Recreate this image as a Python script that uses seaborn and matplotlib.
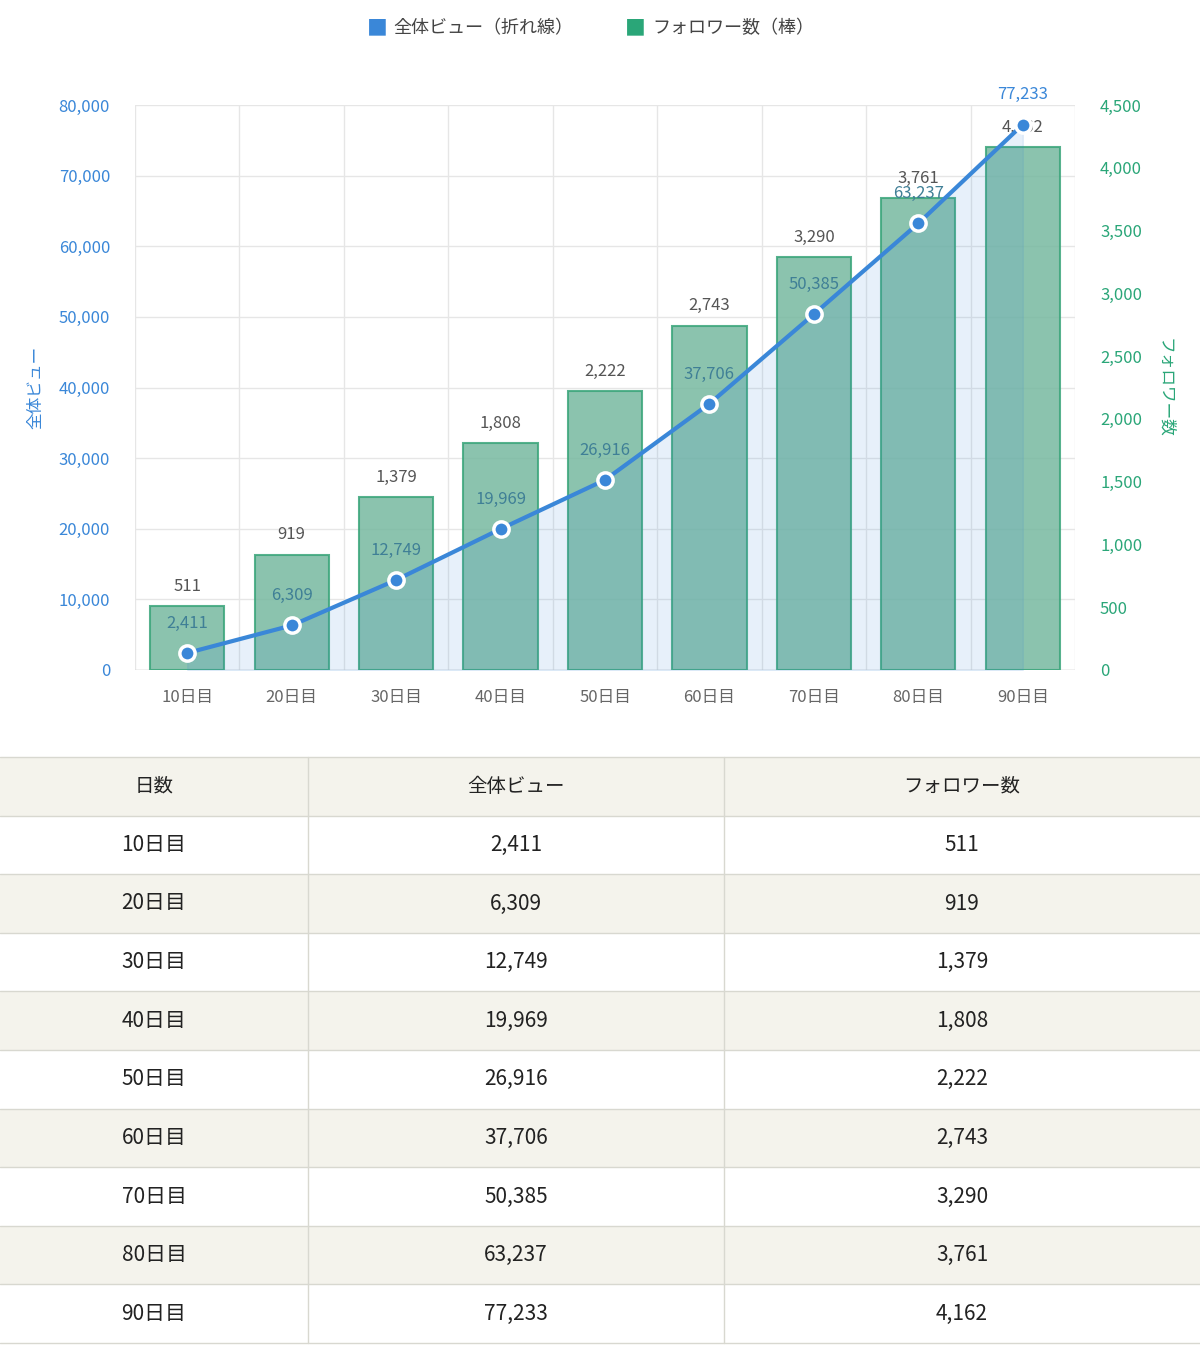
import numpy as np
import pandas as pd
import matplotlib
matplotlib.use("Agg")
import matplotlib.pyplot as plt
import seaborn as sns
from matplotlib.patches import Rectangle

sns.set_theme(style="white")
plt.rcParams['font.family'] = ['Noto Sans CJK JP', 'DejaVu Sans']

days = ["10日目", "20日目", "30日目", "40日目", "50日目", "60日目", "70日目", "80日目", "90日目"]
views = [2411, 6309, 12749, 19969, 26916, 37706, 50385, 63237, 77233]
followers = [511, 919, 1379, 1808, 2222, 2743, 3290, 3761, 4162]
headers = ["日数", "全体ビュー", "フォロワー数"]

BLUE = "#3a87d8"
GREEN = "#2aa678"
W, H = 1200, 1358
fig = plt.figure(figsize=(12, 13.58), dpi=100)

ax = fig.add_axes([135/W, 1-670/H, 940/W, 565/H])
df = pd.DataFrame({"day": days, "f": followers})
sns.barplot(data=df, x="day", y="f", ax=ax, color="#6cc4a2", width=0.71,
            edgecolor="#3aa57a", linewidth=1.5, alpha=0.85, zorder=2)
ax.set_ylim(0, 4500)
ax.set_xlim(-0.5, 8.5)
ax.set_xlabel("")
ax.set_ylabel("")
ax.tick_params(axis='x', labelsize=12, colors="#666", length=0, pad=14)
for s in ax.spines.values():
    s.set_visible(False)
ax.axhline(0, color="#ccc", lw=1, zorder=1)
for k in range(10):
    ax.axvline(k-0.5, color="#e6e6e6", lw=1, zorder=0)
for t in np.arange(0, 80001, 10000):
    ax.axhline(t*4500/80000, color="#e6e6e6", lw=1, zorder=0)
for i, f in enumerate(followers):
    ax.text(i, f+90, f"{f:,}", ha="center", va="bottom", fontsize=12, color="#555", zorder=5)

ax2 = ax.twinx()
ax2.set_ylim(0, 80000)
ax2.yaxis.tick_left()
ax2.yaxis.set_label_position("left")
ax2.set_yticks(np.arange(0, 80001, 10000))
ax2.set_yticklabels([f"{v:,}" for v in range(0, 80001, 10000)], color=BLUE, fontsize=12)
ax2.set_ylabel("全体ビュー", color=BLUE, fontsize=12, labelpad=10)
ax2.tick_params(axis='y', length=0, pad=18)
for s in ax2.spines.values():
    s.set_visible(False)
x = np.arange(9)
ax2.fill_between(x, views, color=BLUE, alpha=0.12, zorder=1)
sns.lineplot(x=x, y=views, ax=ax2, color=BLUE, lw=3, marker="o", markersize=11,
             markerfacecolor=BLUE, markeredgecolor="white", markeredgewidth=2.5, zorder=4)
ax2.set_ylabel("全体ビュー", color=BLUE, fontsize=12, labelpad=10)
for i, v in enumerate(views):
    ax2.text(i, v+3000, f"{v:,}", ha="center", va="bottom", fontsize=12,
             color=BLUE if i == 8 else "#3f7f96", zorder=6)

# right axis ticks for followers (re-apply after twinx)
ax.yaxis.tick_right()
ax.yaxis.set_label_position("right")
ax.set_yticks(np.arange(0, 4501, 500))
ax.set_yticklabels([f"{v:,}" for v in range(0, 4501, 500)], color=GREEN, fontsize=12)
ax.tick_params(axis='y', length=0, pad=18, right=False, left=False, labelright=True, labelleft=False)
ax.set_ylabel("フォロワー数", color=GREEN, fontsize=12, rotation=-90, labelpad=22)

# legend
fig.text(377/W, 1-28/H, "■", color=BLUE, fontsize=15, ha="center", va="center")
fig.text(393/W, 1-28/H, "全体ビュー（折れ線）", color="#444", fontsize=13, ha="left", va="center")
fig.text(635/W, 1-28/H, "■", color=GREEN, fontsize=15, ha="center", va="center")
fig.text(652/W, 1-28/H, "フォロワー数（棒）", color="#444", fontsize=13, ha="left", va="center")

# table
tax = fig.add_axes([0, 0, 1, 1])
tax.set_xlim(0, W); tax.set_ylim(H, 0); tax.axis("off")
cols = [0, 308, 724, 1200]
top, rh = 757, 58.6
rows = [headers] + [[d, f"{v:,}", f"{f:,}"] for d, v, f in zip(days, views, followers)]
for r, row in enumerate(rows):
    y0 = top + r*rh
    bg = "#f4f3ec" if r % 2 == 0 else "white"
    tax.add_patch(Rectangle((0, y0), W, rh, facecolor=bg, edgecolor="none"))
    tax.plot([0, W], [y0, y0], color="#d8d8d0", lw=1)
    for c in range(3):
        tax.text((cols[c]+cols[c+1])/2, y0+rh/2, row[c], ha="center", va="center",
                 fontsize=14 if r == 0 else 15, color="#222")
tax.plot([0, W], [top+10*rh, top+10*rh], color="#d8d8d0", lw=1)
for cx in cols[1:3]:
    tax.plot([cx, cx], [top, top+10*rh], color="#d8d8d0", lw=1)

fig.savefig("out.png", dpi=100)
